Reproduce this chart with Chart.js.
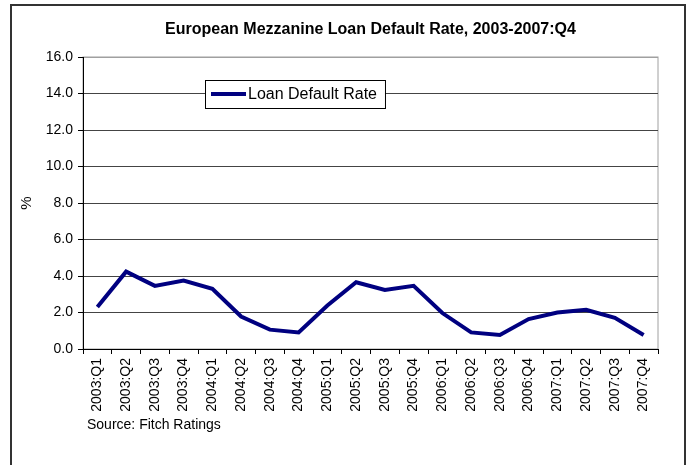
<!DOCTYPE html>
<html>
<head>
<meta charset="utf-8">
<script src="https://cdn.jsdelivr.net/npm/chart.js@4.4.0/dist/chart.umd.min.js"></script>
<style>
html, body { margin: 0; padding: 0; background: #fff; }
</style>
</head>
<body>
<canvas id="myChart" width="690" height="465"></canvas>
<script>
// chart data
var chartTitle = 'European Mezzanine Loan Default Rate, 2003-2007:Q4';
var sourceNote = 'Source: Fitch Ratings';
var quarters = ['2003:Q1', '2003:Q2', '2003:Q3', '2003:Q4',
                '2004:Q1', '2004:Q2', '2004:Q3', '2004:Q4',
                '2005:Q1', '2005:Q2', '2005:Q3', '2005:Q4',
                '2006:Q1', '2006:Q2', '2006:Q3', '2006:Q4',
                '2007:Q1', '2007:Q2', '2007:Q3', '2007:Q4'];
var defaultRate = [2.3, 4.24, 3.46, 3.75,
                   3.3, 1.78, 1.06, 0.91,
                   2.38, 3.66, 3.24, 3.46,
                   1.97, 0.91, 0.77, 1.64,
                   2.0, 2.15, 1.71, 0.77];
var yMin = 0, yMax = 16, yStep = 2;

var fontFamily = '"Liberation Sans", Arial, sans-serif';
Chart.defaults.font.family = fontFamily;
Chart.defaults.color = '#000';

// frame, title, legend box and source line
var chartDecor = {
  id: 'chartDecor',
  beforeDraw: function (chart) {
    var ctx = chart.ctx;
    var a = chart.chartArea;
    ctx.save();
    ctx.fillStyle = '#fff';
    ctx.fillRect(0, 0, chart.width, chart.height);
    ctx.strokeStyle = '#333';
    ctx.lineWidth = 2;
    ctx.strokeRect(11, 5, 674, 480);
    ctx.strokeStyle = '#a0a0a0';
    ctx.lineWidth = 1;
    ctx.strokeRect(a.left, a.top, a.right - a.left, a.bottom - a.top);
    ctx.restore();
  },
  afterDatasetsDraw: function (chart) {
    var ctx = chart.ctx;
    var a = chart.chartArea;
    var ds = chart.data.datasets[0];
    ctx.save();
    ctx.font = '16px ' + fontFamily;
    var tw = ctx.measureText(ds.label).width;
    var bx = a.left + 122, by = a.top + 23;
    var bw = 43 + tw + 8, bh = 28;
    ctx.fillStyle = '#fff';
    ctx.fillRect(bx, by, bw, bh);
    ctx.strokeStyle = '#000';
    ctx.lineWidth = 1;
    ctx.strokeRect(bx + 0.5, by + 0.5, bw, bh);
    ctx.strokeStyle = ds.borderColor;
    ctx.lineWidth = ds.borderWidth;
    ctx.beginPath();
    ctx.moveTo(bx + 6, by + bh / 2);
    ctx.lineTo(bx + 41, by + bh / 2);
    ctx.stroke();
    ctx.fillStyle = '#000';
    ctx.textBaseline = 'middle';
    ctx.fillText(ds.label, bx + 43, by + bh / 2 + 1);
    ctx.restore();
  },
  afterDraw: function (chart) {
    var ctx = chart.ctx;
    var a = chart.chartArea;
    ctx.save();
    ctx.fillStyle = '#000';
    ctx.textBaseline = 'middle';
    ctx.textAlign = 'center';
    ctx.font = 'bold 16px ' + fontFamily;
    ctx.fillText(chartTitle, (a.left + a.right) / 2, 30);
    ctx.textAlign = 'left';
    ctx.font = '14px ' + fontFamily;
    ctx.fillText(sourceNote, 87, 425);
    ctx.restore();
  }
};

var ctx = document.getElementById('myChart').getContext('2d');
window.myLine = new Chart(ctx, {
  type: 'line',
  data: {
    labels: quarters,
    datasets: [{
      label: 'Loan Default Rate',
      data: defaultRate,
      borderColor: '#000080',
      backgroundColor: '#000080',
      borderWidth: 4,
      pointRadius: 0,
      tension: 0,
      fill: false
    }]
  },
  options: {
    responsive: false,
    animation: false,
    layout: { padding: { top: 57, right: 32, left: 0, bottom: 0 } },
    plugins: {
      legend: { display: false },
      title: { display: false },
      tooltip: { enabled: false }
    },
    scales: {
      x: {
        offset: true,
        afterFit: function (scale) { scale.height = 116; },
        grid: {
          offset: true,
          drawOnChartArea: false,
          drawTicks: true,
          tickLength: 5,
          tickColor: '#000'
        },
        border: { display: true, color: '#000', width: 1 },
        ticks: {
          autoSkip: false,
          minRotation: 90,
          maxRotation: 90,
          padding: 4,
          font: { size: 14 },
          color: '#000'
        }
      },
      y: {
        min: yMin,
        max: yMax,
        afterFit: function (scale) { scale.width = 83; },
        title: {
          display: true,
          text: '%',
          font: { size: 15 },
          color: '#000',
          padding: { top: 18, bottom: 0 }
        },
        grid: {
          color: function (c) { return c.tick && c.tick.value === yMax ? '#a0a0a0' : '#444'; },
          tickLength: 5,
          tickColor: '#000'
        },
        border: { display: true, color: '#000', width: 1 },
        ticks: {
          stepSize: yStep,
          padding: 5,
          font: { size: 14 },
          color: '#000',
          callback: function (v) { return v.toFixed(1); }
        }
      }
    }
  },
  plugins: [chartDecor]
});
</script>
</body>
</html>
